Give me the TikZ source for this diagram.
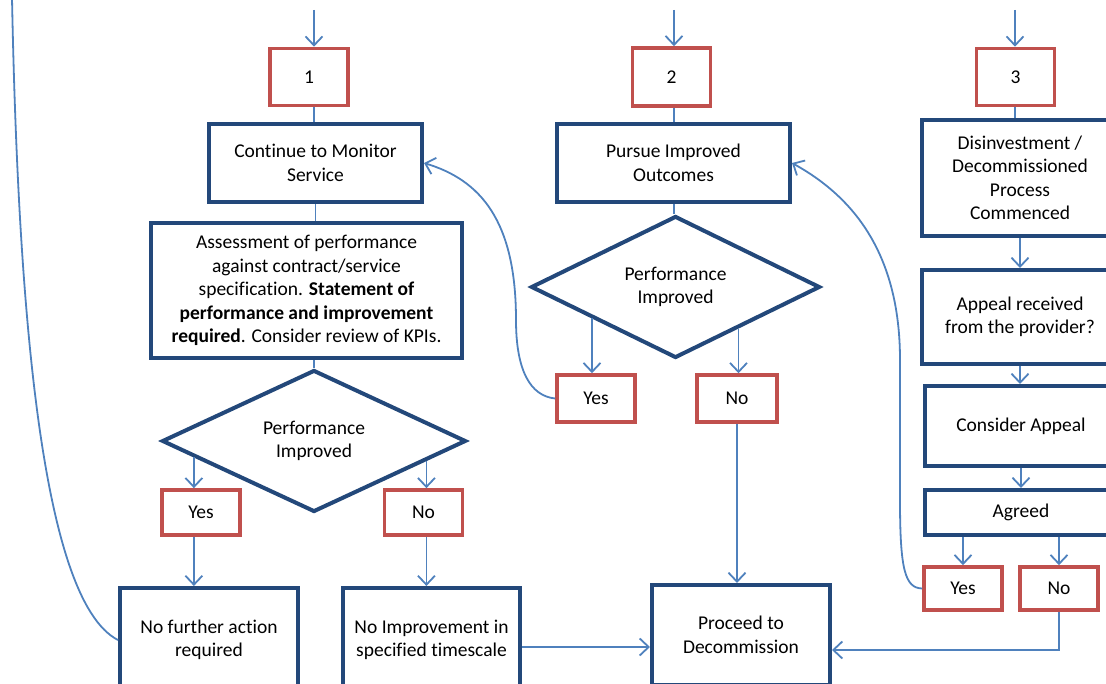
\documentclass[tikz,border=0pt]{standalone}
\usepackage{fontspec}
\setmainfont{Carlito}[Ligatures=NoCommon]
\usetikzlibrary{shapes.geometric,arrows.meta,calc}
\definecolor{boxblue}{RGB}{35,72,122}
\definecolor{linkblue}{RGB}{79,129,189}
\definecolor{tagred}{RGB}{192,80,77}

\begin{document}
\begin{tikzpicture}[x=1pt,y=-1pt,>={Straight Barb[length=9pt,width=17pt]},
  every node/.style={font=\fontsize{19.5}{23.5}\selectfont,align=center,inner sep=0pt},
  stepbox/.style={draw=boxblue,line width=4pt,fill=white},
  tagbox/.style={draw=tagred,line width=3.6pt,fill=white,minimum width=78pt,minimum height=45pt},
  decide/.style={diamond,draw=boxblue,line width=4pt,fill=white},
  link/.style={draw=linkblue,line width=1.8pt}]
  \useasboundingbox (0,0) rectangle (1106,684);
  \clip (0,0) rectangle (1106,684);

  % left column
  \node[tagbox,minimum height=57pt] (num1) at (309,77) {1};
  \node[stepbox,minimum width=213pt,minimum height=78pt] (monitor) at (315.5,163) {Continue to Monitor\\Service};
  \node[stepbox,minimum width=311pt,minimum height=135pt] (assess) at (306.5,290.5) {Assessment of performance\\against contract/service\\specification. \textbf{Statement of}\\\textbf{performance and improvement}\\\textbf{required}. Consider review of KPIs.};
  \node[decide,minimum width=304pt,minimum height=128pt] (perf1) at (314,441) {Performance\\Improved};
  \node[tagbox] (yes1) at (201,512.5) {Yes};
  \node[tagbox] (no1) at (423.5,512.5) {No};
  \node[stepbox,minimum width=178pt,minimum height=104pt] (noaction) at (209,640) {No further action\\required};
  \node[stepbox,minimum width=177pt,minimum height=104pt] (noimp) at (431.5,640) {No Improvement in\\specified timescale};

  % middle column
  \node[tagbox,minimum height=58pt] (num2) at (671.5,77) {2};
  \node[stepbox,minimum width=233pt,minimum height=78pt] (pursue) at (673.5,163) {Pursue Improved\\Outcomes};
  \node[decide,minimum width=289pt,minimum height=128pt] (perf2) at (675.5,287) {Performance\\Improved};
  \node[tagbox,minimum height=47pt] (yes2) at (596,398.5) {Yes};
  \node[tagbox,minimum width=80pt,minimum height=47pt] (no2) at (737,398.5) {No};
  \node[stepbox,minimum width=178pt,minimum height=100pt] (proceed) at (741,635) {Proceed to\\Decommission};

  % right column
  \node[tagbox,minimum height=57pt] (num3) at (1015.5,77) {3};
  \node[stepbox,minimum width=196pt,minimum height=116pt] (disinv) at (1020,178) {Disinvestment /\\Decommissioned\\Process\\Commenced};
  \node[stepbox,minimum width=196pt,minimum height=94pt] (appeal) at (1020,317) {Appeal received\\from the provider?};
  \node[stepbox,minimum width=192pt,minimum height=80pt] (consider) at (1021,426) {Consider Appeal};
  \node[stepbox,minimum width=192pt,minimum height=45pt] (agreed) at (1021,512.5) {Agreed};
  \node[tagbox,minimum height=43pt] (yes3) at (963,588.5) {Yes};
  \node[tagbox,minimum height=43pt] (no3) at (1059,588.5) {No};

  % entry points
  \coordinate (in1) at (314,10);
  \coordinate (in2) at (674,10);
  \coordinate (in3) at (1015,10);
  \coordinate (loopend) at (12,-2);
  \draw[link,->] (in1) -- (in1 |- num1.north);
  \draw[link,->] (in2) -- (in2 |- num2.north);
  \draw[link,->] (in3) -- (in3 |- num3.north);

  % straight links
  \draw[link] (in1 |- num1.south) -- (in1 |- monitor.north);
  \draw[link] (monitor.south) -- (monitor.south |- assess.north);
  \draw[link] (perf1.north |- assess.south) -- (perf1.north);
  \draw[link] (in2 |- num2.south) -- (in2 |- pursue.north);
  \draw[link] (in2 |- pursue.south) -- (in2 |- perf2.north);
  \draw[link] (in3 |- num3.south) -- (in3 |- disinv.north);
  \draw[link,->] (disinv.south) -- (appeal.north);
  \draw[link,->] (appeal.south) -- (appeal.south |- consider.north);
  \draw[link,->] (consider.south) -- (agreed.north);
  \draw[link,->] (yes3.north |- agreed.south) -- (yes3.north);
  \draw[link,->] (no3.north |- agreed.south) -- (no3.north);

  % decision branches
  \coordinate (d1y) at ($(perf1.west)!0.22!(perf1.south)$);
  \coordinate (d1n) at ($(perf1.east)!0.27!(perf1.south)$);
  \coordinate (d2y) at ($(perf2.west)!0.43!(perf2.south)$);
  \coordinate (d2n) at ($(perf2.east)!0.57!(perf2.south)$);
  \draw[link,->] (d1y) -- (d1y |- yes1.north);
  \draw[link,->] (d1n) -- (d1n |- no1.north);
  \draw[link,->] (d2y) -- (d2y |- yes2.north);
  \draw[link,->] (d2n) -- (d2n |- no2.north);
  \draw[link,->] (d1y |- yes1.south) -- (d1y |- noaction.north);
  \draw[link,->] (d1n |- no1.south) -- (d1n |- noimp.north);
  \draw[link,->] (no2.south) -- (no2.south |- proceed.north);
  \draw[link,->] ([yshift=-7pt]noimp.east) -- ([yshift=-12pt]proceed.west);
  \draw[link,->] (no3.south) |- ([yshift=-15pt]proceed.east);

  % loops back
  \draw[link,->] (yes2.west) .. controls (530,396) and (516,370) .. (516,320)
    .. controls (516,220) and (480,180) .. (monitor.east);
  \draw[link,->] (yes3.west) .. controls (905,588) and (900,570) .. (900,500)
    -- (900,360) .. controls (900,250) and (850,195) .. (pursue.east);
  \draw[link] (noaction.west) .. controls (40,600) and (18,300) .. (loopend);
\end{tikzpicture}
\end{document}
